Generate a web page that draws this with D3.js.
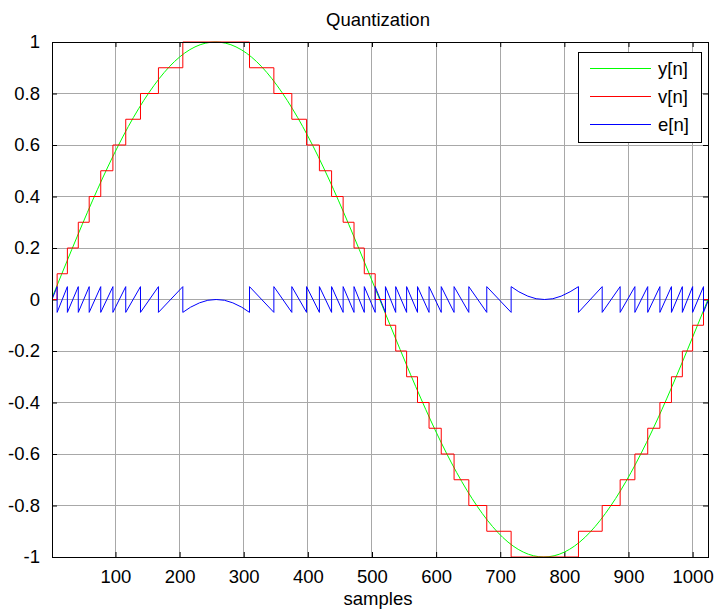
<!DOCTYPE html>
<html lang="en">
<head>
<title>Quantization</title>
<meta charset="utf-8">
<script src="https://d3js.org/d3.v7.min.js"></script>
<style>
	body { margin: 0; background: #fff; }
	text { font-family: "Liberation Sans", Arial, sans-serif; fill: #000; }
</style>
</head>
<body>
<div id="chart"></div>

<script type="text/javascript">
	// tick values
	var xTicks = [100, 200, 300, 400, 500, 600, 700, 800, 900, 1000],
		yTicks = [-1, -0.8, -0.6, -0.4, -0.2, 0, 0.2, 0.4, 0.6, 0.8, 1];

	// y[n] read every 32 samples
	var sineX = [0, 32, 64, 96, 128, 160, 192, 224, 256, 288, 320, 352, 384, 416, 448, 480, 512,
				 544, 576, 608, 640, 672, 704, 736, 768, 800, 832, 864, 896, 928, 960, 992, 1024],
		sineY = [0, 0.195, 0.383, 0.556, 0.707, 0.831, 0.924, 0.981, 1, 0.981, 0.924, 0.831, 0.707, 0.556, 0.383, 0.195, 0,
				 -0.195, -0.383, -0.556, -0.707, -0.831, -0.924, -0.981, -1, -0.981, -0.924, -0.831, -0.707, -0.556, -0.383, -0.195, 0];

	// v[n] staircase: sample where each level starts
	var stepX = [1, 9, 25, 42, 59, 77, 96, 116, 139, 167, 205, 309, 347, 375, 398, 418, 437, 455, 472, 488, 505,
				 521, 537, 554, 571, 589, 608, 628, 651, 679, 717, 822, 859, 887, 910, 930, 949, 967, 984, 1000, 1017, 1024],
		stepY = [0, 0.1, 0.2, 0.3, 0.4, 0.5, 0.6, 0.7, 0.8, 0.9, 1, 0.9, 0.8, 0.7, 0.6, 0.5, 0.4, 0.3, 0.2, 0.1, 0,
				 -0.1, -0.2, -0.3, -0.4, -0.5, -0.6, -0.7, -0.8, -0.9, -1, -0.9, -0.8, -0.7, -0.6, -0.5, -0.4, -0.3, -0.2, -0.1, 0, 0];

	// e[n] vertices
	var errX = [1, 9, 9, 25, 25, 42, 42, 59, 59, 77, 77, 96, 96, 116, 116, 139, 139, 167, 167, 205,
				205, 217, 231, 244, 257, 270, 283, 297, 309,
				309, 347, 347, 375, 375, 398, 398, 418, 418, 437, 437, 455, 455, 472, 472, 488, 488, 505, 505,
				521, 521, 537, 537, 554, 554, 571, 571, 589, 589, 608, 608, 628, 628, 651, 651, 679, 679, 717,
				717, 729, 743, 756, 769, 782, 795, 809, 822,
				822, 859, 859, 887, 887, 910, 910, 930, 930, 949, 949, 967, 967, 984, 984, 1000, 1000, 1017, 1017, 1024],
		errY = [0, 0.05, -0.05, 0.05, -0.05, 0.05, -0.05, 0.05, -0.05, 0.05, -0.05, 0.05, -0.05, 0.05, -0.05, 0.05, -0.05, 0.05, -0.05, 0.05,
				-0.05, -0.03, -0.013, -0.003, 0, -0.003, -0.013, -0.03, -0.05,
				0.05, -0.05, 0.05, -0.05, 0.05, -0.05, 0.05, -0.05, 0.05, -0.05, 0.05, -0.05, 0.05, -0.05, 0.05, -0.05, 0.05, -0.05, 0.05,
				-0.05, 0.05, -0.05, 0.05, -0.05, 0.05, -0.05, 0.05, -0.05, 0.05, -0.05, 0.05, -0.05, 0.05, -0.05, 0.05, -0.05, 0.05, -0.05,
				0.05, 0.03, 0.013, 0.003, 0, 0.003, 0.013, 0.03, 0.05,
				-0.05, 0.05, -0.05, 0.05, -0.05, 0.05, -0.05, 0.05, -0.05, 0.05, -0.05, 0.05, -0.05, 0.05, -0.05, 0.05, -0.05, 0.05, -0.05, -0.006];

	var seriesNames = ['y[n]', 'v[n]', 'e[n]'],
		seriesColors = ['#00ff00', '#ff0000', '#0000ff'];

	var W = 715, H = 612,
		margin = {top: 42, right: 7, bottom: 55, left: 52},
		width = W - margin.left - margin.right,
		height = H - margin.top - margin.bottom;

	var svg = d3.select("#chart")
		.append("svg")
		.attr("width", W)
		.attr("height", H);

	var g = svg.append("g")
		.attr("transform", "translate(" + margin.left + "," + margin.top + ")");

	var x = d3.scaleLinear().domain([1, 1024]).range([0, width]);
	var y = d3.scaleLinear().domain([-1, 1]).range([height, 0]);

	// grid
	g.append("g")
		.selectAll("line")
		.data(xTicks)
		.join("line")
		.attr("x1", function(d) { return x(d); })
		.attr("x2", function(d) { return x(d); })
		.attr("y1", 0)
		.attr("y2", height)
		.attr("stroke", "#a8a8a8")
		.attr("stroke-width", 1)
		.attr("shape-rendering", "crispEdges");
	g.append("g")
		.selectAll("line")
		.data(yTicks)
		.join("line")
		.attr("x1", 0)
		.attr("x2", width)
		.attr("y1", function(d) { return y(d); })
		.attr("y2", function(d) { return y(d); })
		.attr("stroke", "#a8a8a8")
		.attr("stroke-width", 1)
		.attr("shape-rendering", "crispEdges");

	// axes with inward ticks on all four sides
	var fmt = function(d) { return d3.format("")(+d.toFixed(1)).replace("−", "-"); };
	var bottomAxis = g.append("g")
		.attr("transform", "translate(0," + height + ")")
		.call(d3.axisBottom(x).tickValues(xTicks).tickSize(-5).tickPadding(13).tickFormat(d3.format("d")));
	var leftAxis = g.append("g")
		.call(d3.axisLeft(y).tickValues(yTicks).tickSize(-5).tickPadding(12).tickFormat(fmt));
	g.append("g")
		.call(d3.axisTop(x).tickValues(xTicks).tickSize(-5).tickFormat(""));
	g.append("g")
		.attr("transform", "translate(" + width + ",0)")
		.call(d3.axisRight(y).tickValues(yTicks).tickSize(-5).tickFormat(""));

	g.selectAll(".domain").remove();
	g.selectAll(".tick line").attr("stroke", "#000");
	g.selectAll(".tick text").style("font-size", "18.5px").attr("fill", "#000");
	bottomAxis.selectAll(".tick text").attr("dy", "0.71em");

	var clipPad = 2;
	svg.append("clipPath")
		.attr("id", "plot-clip")
		.append("rect")
		.attr("x", 0)
		.attr("y", -clipPad)
		.attr("width", width)
		.attr("height", height + 2 * clipPad);

	var lines = g.append("g").attr("clip-path", "url(#plot-clip)");

	var sineData = sineX.map(function(d, i) { return [d, sineY[i]]; }),
		stepData = stepX.map(function(d, i) { return [d, stepY[i]]; }),
		errData = errX.map(function(d, i) { return [d, errY[i]]; });

	var lineGen = d3.line()
		.x(function(d) { return x(d[0]); })
		.y(function(d) { return y(d[1]); });

	lines.append("path")
		.datum(sineData)
		.attr("fill", "none")
		.attr("stroke", seriesColors[0])
		.attr("stroke-width", 1)
		.attr("d", lineGen.curve(d3.curveNatural));
	lines.append("path")
		.datum(stepData)
		.attr("fill", "none")
		.attr("stroke", seriesColors[1])
		.attr("stroke-width", 1)
		.attr("d", lineGen.curve(d3.curveStepAfter));
	lines.append("path")
		.datum(errData)
		.attr("fill", "none")
		.attr("stroke", seriesColors[2])
		.attr("stroke-width", 1)
		.attr("d", lineGen.curve(d3.curveLinear));

	// box
	g.append("rect")
		.attr("x", 0)
		.attr("y", 0)
		.attr("width", width)
		.attr("height", height)
		.attr("fill", "none")
		.attr("stroke", "#000")
		.attr("stroke-width", 1)
		.attr("shape-rendering", "crispEdges");

	// title and label
	svg.append("text")
		.attr("x", 378)
		.attr("y", 26)
		.attr("text-anchor", "middle")
		.style("font-size", "18.5px")
		.text("Quantization");
	svg.append("text")
		.attr("x", 378)
		.attr("y", 605)
		.attr("text-anchor", "middle")
		.style("font-size", "18.5px")
		.text("samples");

	// legend
	var legend = svg.append("g").attr("transform", "translate(578,52)");
	legend.append("rect")
		.attr("width", 123)
		.attr("height", 90)
		.attr("fill", "#fff")
		.attr("stroke", "#000")
		.attr("stroke-width", 1)
		.attr("shape-rendering", "crispEdges");
	seriesNames.forEach(function(name, i) {
		var ly = 16.5 + i * 28;
		legend.append("line")
			.attr("x1", 12)
			.attr("x2", 73)
			.attr("y1", ly)
			.attr("y2", ly)
			.attr("stroke", seriesColors[i])
			.attr("stroke-width", 1);
		legend.append("text")
			.attr("x", 80)
			.attr("y", ly)
			.attr("dy", "0.35em")
			.style("font-size", "18.5px")
			.text(name);
	});
</script>

</body>
</html>
